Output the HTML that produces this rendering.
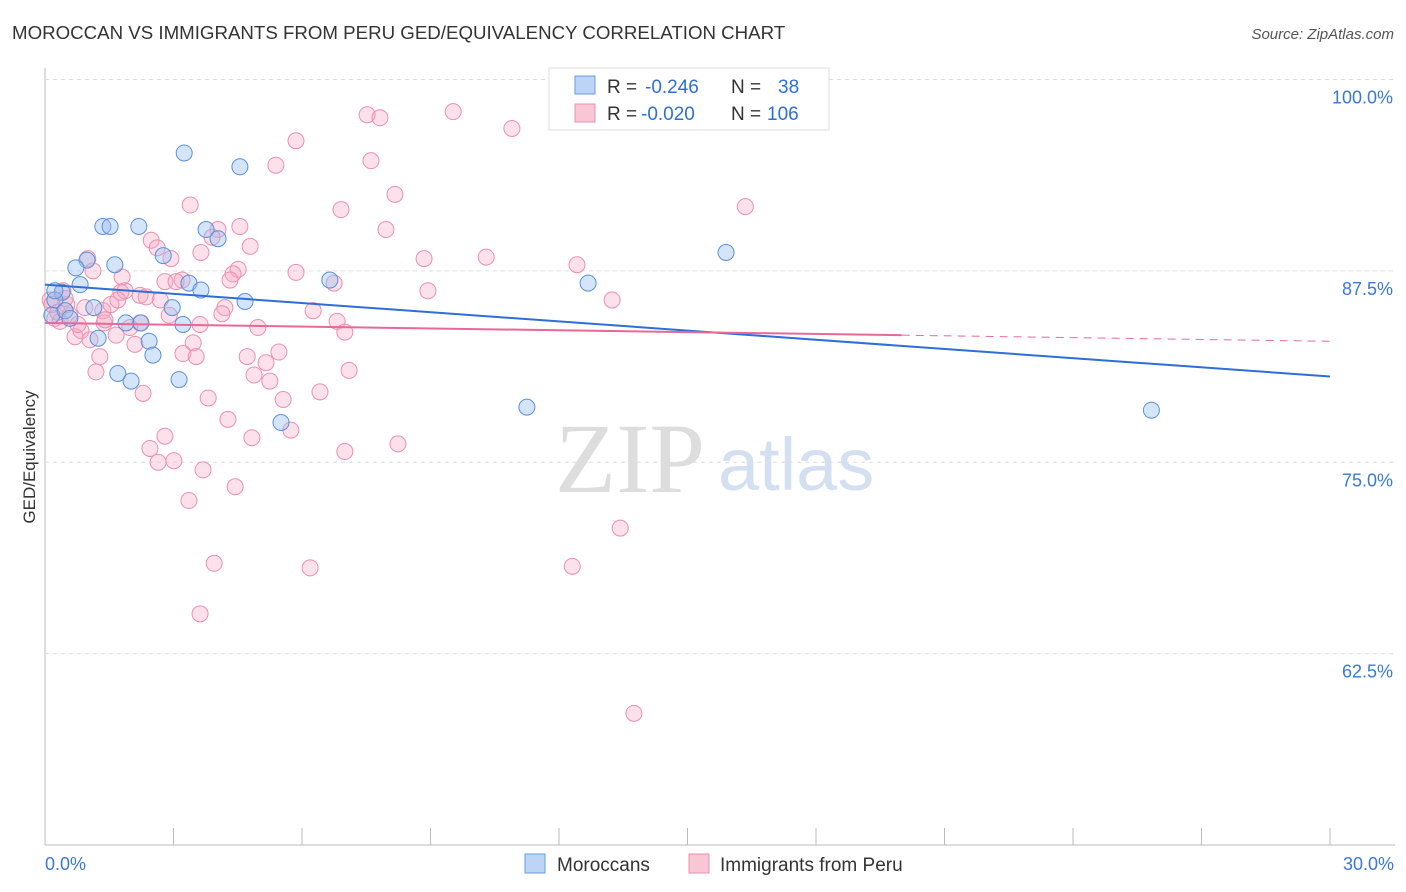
<!DOCTYPE html>
<html><head><meta charset="utf-8">
<style>
body{margin:0;background:#fff;font-family:"Liberation Sans",sans-serif;}
#wrap{position:relative;width:1406px;height:892px;overflow:hidden;}
</style></head>
<body>
<div id="wrap">
<svg id="svg" width="1406" height="892" xmlns="http://www.w3.org/2000/svg">
<text x="12" y="39" font-size="18.7" fill="#333">MOROCCAN VS IMMIGRANTS FROM PERU GED/EQUIVALENCY CORRELATION CHART</text>
<text x="1394" y="39" font-size="15" fill="#555" font-style="italic" text-anchor="end">Source: ZipAtlas.com</text>
<text x="35" y="457" font-size="17" fill="#333" text-anchor="middle" transform="rotate(-90 35 457)">GED/Equivalency</text>
<text x="555" y="492" font-size="100" fill="#ddd" font-family="Liberation Serif,serif">ZIP</text>
<text x="718" y="490" font-size="74" fill="#d4e0f2">atlas</text>
<g id="grid"></g><g id="pts"></g><g id="trend"></g>
<g>
<rect x="549" y="68" width="280" height="62" fill="#fff" stroke="#ddd"/>
<rect x="575" y="76" width="20" height="18" fill="#bcd4f5" stroke="#6a9be0"/>
<rect x="575" y="104" width="20" height="18" fill="#f9c6d6" stroke="#ec8fae"/>
<text x="607" y="93" font-size="19" fill="#333">R =</text>
<text x="645" y="93" font-size="19" fill="#2d6fd6">-0.246</text>
<text x="731" y="93" font-size="19" fill="#333">N =</text>
<text x="778" y="93" font-size="19" fill="#2d6fd6">38</text>
<text x="607" y="120" font-size="19" fill="#333">R =</text>
<text x="641" y="120" font-size="19" fill="#2d6fd6">-0.020</text>
<text x="731" y="120" font-size="19" fill="#333">N =</text>
<text x="767" y="120" font-size="19" fill="#2d6fd6">106</text>
</g>
<g>
<rect x="525" y="854" width="20" height="19" fill="#bcd4f5" stroke="#6a9be0"/>
<text x="557" y="871" font-size="19" fill="#333">Moroccans</text>
<rect x="689" y="854" width="20" height="19" fill="#f9c6d6" stroke="#ec8fae"/>
<text x="720" y="871" font-size="19" fill="#333">Immigrants from Peru</text>
</g>
</svg>
</div>
<script>
const yTicks=[100,87.5,75,62.5];
const yTickLabels=["100.0%","87.5%","75.0%","62.5%"];
const xTicks=[0,3,6,9,12,15,18,21,24,27,30];
const blueX=[3.25,4.55,1.35,1.52,2.19,3.76,4.04,15.9,0.98,1.63,0.72,2.76,6.65,12.68,0.82,3.36,3.64,0.4,1.14,2.97,4.67,0.23,0.16,1.89,2.24,3.22,1.24,2.43,2.52,1.70,2.01,3.13,11.25,25.83,5.51,0.47,0.23,0.58];
const blueY=[95.2,94.3,90.4,90.4,90.4,90.2,89.6,88.7,88.2,87.9,87.7,88.5,86.9,86.7,86.6,86.7,86.25,86.1,85.1,85.1,85.5,85.6,84.6,84.1,84.1,84.0,83.1,82.9,82.0,80.8,80.3,80.4,78.6,78.4,77.6,84.9,86.2,84.4];
const pinkX=[9.53,7.52,7.82,10.9,5.86,7.61,5.39,8.17,3.39,6.91,16.35,4.55,4.04,7.96,3.90,2.48,4.79,3.64,2.62,8.85,10.30,2.94,1.0,5.86,4.51,12.42,4.39,1.12,1.80,2.80,3.20,6.75,3.06,8.94,13.24,1.77,2.22,2.36,0.51,0.42,1.35,1.54,2.90,4.20,4.13,6.26,6.82,4.97,7.0,1.38,0.84,0.70,1.98,1.66,1.05,2.10,3.46,3.22,3.53,4.72,5.46,1.28,5.16,7.10,1.19,4.88,5.25,6.42,2.29,3.81,5.56,4.27,5.74,4.83,2.80,8.24,7.0,2.45,2.64,3.01,3.69,4.44,3.36,13.43,3.95,6.19,12.31,3.62,13.75,0.12,0.23,0.35,0.58,0.93,0.47,0.77,2.22,2.69,1.40,1.87,3.62,4.32,1.70,0.16,0.30];
const pinkY=[97.9,97.7,97.5,96.8,96.0,94.7,94.4,92.5,91.8,91.5,91.7,90.4,90.2,90.2,89.7,89.5,89.1,88.7,89.0,88.3,88.4,88.3,88.3,87.4,87.6,87.9,87.3,87.5,87.1,86.8,86.9,86.7,86.8,86.2,85.6,86.1,85.9,85.8,85.3,86.2,84.9,85.3,84.6,85.1,84.7,84.9,84.2,83.8,83.5,84.1,83.6,83.2,83.8,83.3,83.0,82.7,82.8,82.1,81.9,81.9,82.2,81.9,81.5,81.0,80.9,80.7,80.3,79.6,79.5,79.2,79.1,77.8,77.1,76.6,76.7,76.2,75.7,75.9,75.0,75.1,74.5,73.4,72.5,70.7,68.4,68.1,68.2,65.1,58.6,85.6,84.4,84.2,84.6,85.1,85.7,84.0,84.1,85.6,84.3,86.2,84.0,86.9,85.6,85.3,84.8];
const blueTrend=[86.6,80.6];
const pinkTrend=[84.1,82.9];
const pinkSolidEnd=20;

const X0=45,X1=1330,YT=79.5,YB=845;
const sx=v=>X0+(v/30)*(X1-X0);
const sy=v=>YT+(100-v)/50*(YB-YT);
const NS="http://www.w3.org/2000/svg";
function mk(tag,attrs,parent){const e=document.createElementNS(NS,tag);for(const k in attrs)e.setAttribute(k,attrs[k]);parent.appendChild(e);return e;}
const grid=document.getElementById('grid');
let ax=mk('line',{x1:X0,y1:68,x2:X0,y2:YB,stroke:'#bbb'},grid);


let bx=mk('line',{x1:X0,y1:YB,x2:1395,y2:YB,stroke:'#bbb'},grid);


yTicks.forEach((t,i)=>{
 let g=mk('line',{x1:X0,y1:sy(t),x2:1395,y2:sy(t),stroke:'#ddd','stroke-dasharray':'4,4'},grid);
 
 
 let l=mk('text',{x:1393,y:sy(t)+24,'font-size':18,fill:'#3a78d8','text-anchor':'end'},grid);
 l.textContent=yTickLabels[i];
 
 
});
xTicks.forEach(t=>{
 let k=mk('line',{x1:sx(t),y1:828,x2:sx(t),y2:YB,stroke:'#bbb'},grid);
 
 
});
let xl=mk('text',{x:45,y:870,'font-size':18,fill:'#3a78d8'},grid);xl.textContent='0.0%';


let xr=mk('text',{x:1394,y:870,'font-size':18,fill:'#3a78d8','text-anchor':'end'},grid);xr.textContent='30.0%';



const pts=document.getElementById('pts');
pinkX.forEach((x,i)=>{
 let c=mk('circle',{cx:sx(x),cy:sy(pinkY[i]),r:8,fill:'rgba(246,170,195,0.35)',stroke:'#ec8fae','stroke-width':1},pts);
 
 
});
blueX.forEach((x,i)=>{
 let c=mk('circle',{cx:sx(x),cy:sy(blueY[i]),r:8,fill:'rgba(150,190,240,0.4)',stroke:'#5b8fdc','stroke-width':1},pts);
 
 
});
const tr=document.getElementById('trend');
let b=mk('line',{x1:sx(0),y1:sy(blueTrend[0]),x2:sx(30),y2:sy(blueTrend[1]),stroke:'#2d6fd6','stroke-width':2},tr);


const pAt=x=>pinkTrend[0]+(pinkTrend[1]-pinkTrend[0])*x/30;
let p=mk('line',{x1:sx(0),y1:sy(pAt(0)),x2:sx(pinkSolidEnd),y2:sy(pAt(pinkSolidEnd)),stroke:'#e8689a','stroke-width':2},tr);


let pd=mk('line',{x1:sx(pinkSolidEnd),y1:sy(pAt(pinkSolidEnd)),x2:sx(30),y2:sy(pAt(30)),stroke:'#e8689a','stroke-width':1,'stroke-dasharray':'8,6'},tr);


</script>
</body></html>
